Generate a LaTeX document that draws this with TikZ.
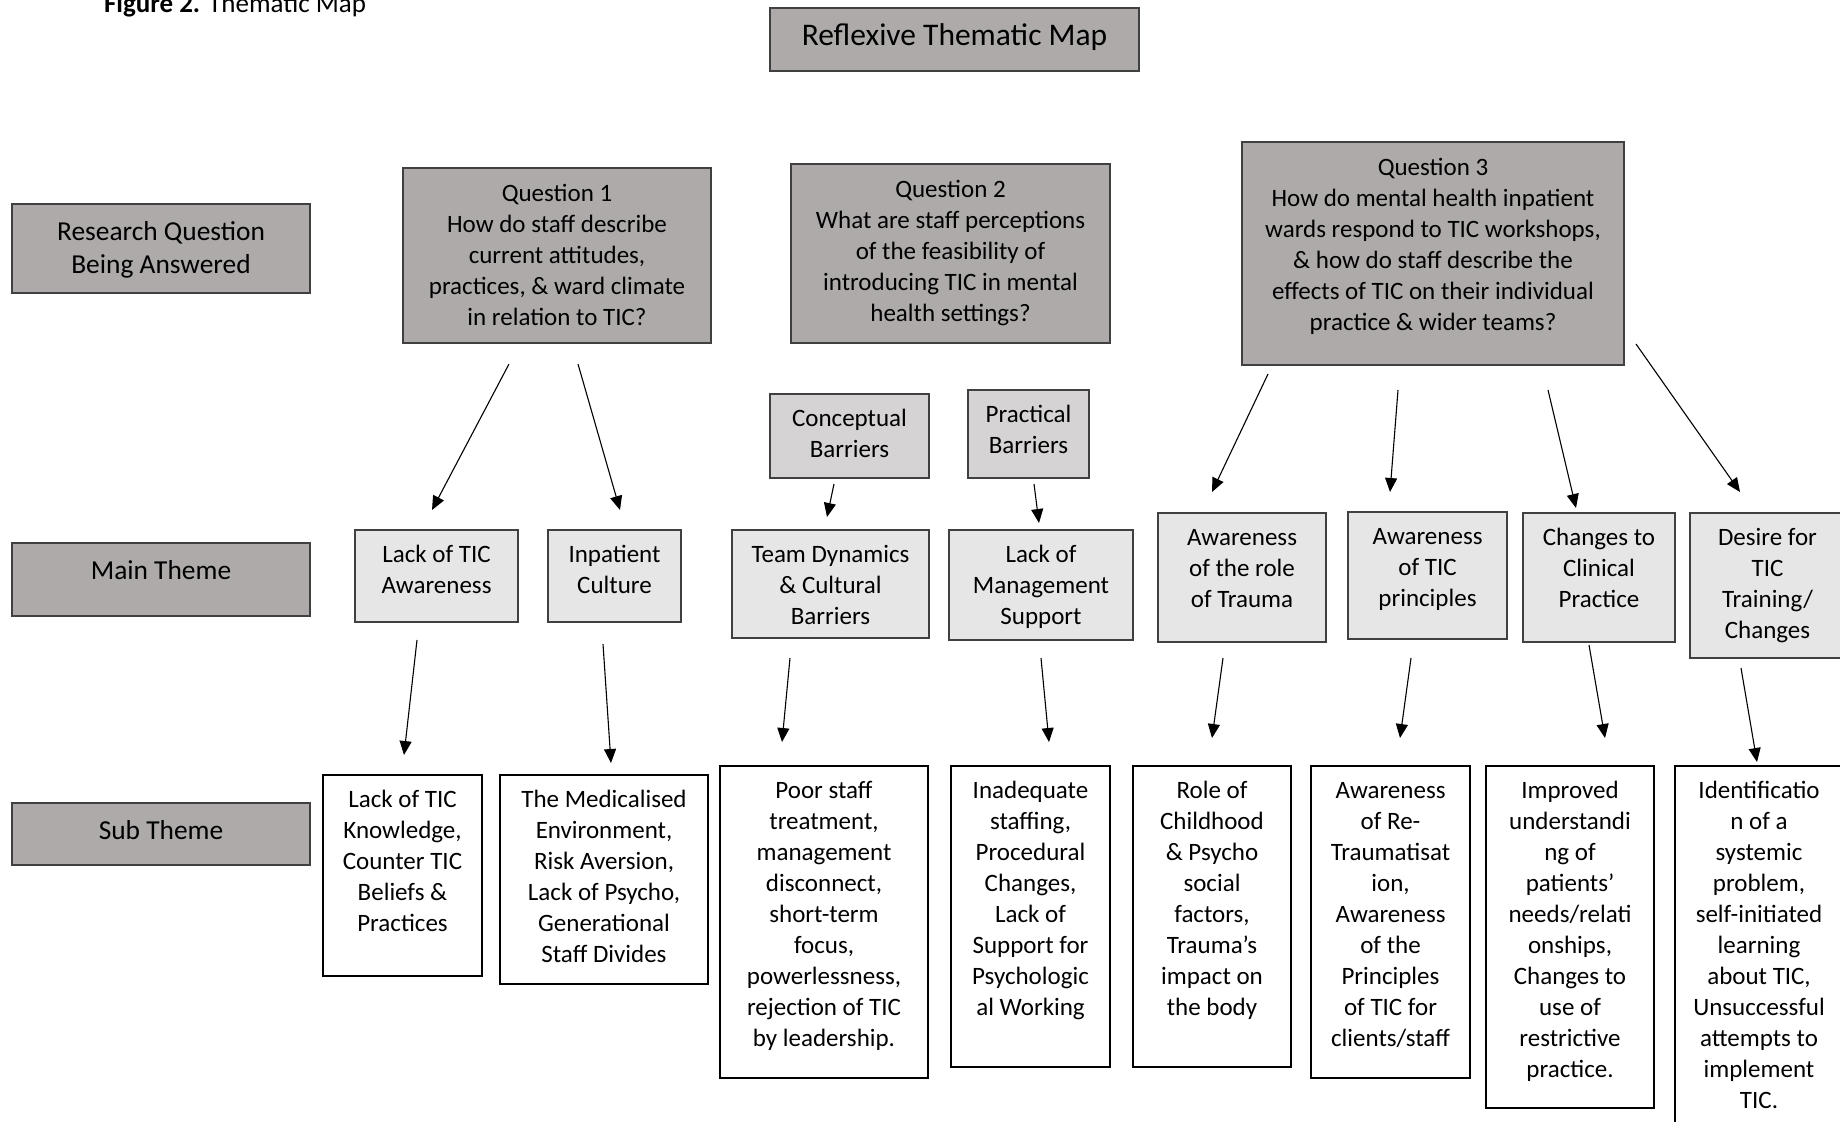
\documentclass[tikz,border=0pt]{standalone}
\usepackage{fontspec}
\setmainfont{Carlito}
\usetikzlibrary{arrows.meta}
\definecolor{darkfill}{HTML}{AEAAAA}
\definecolor{litefill}{HTML}{E7E6E6}
\definecolor{barrfill}{HTML}{D5D3D3}
\definecolor{boxline}{HTML}{404040}
\newdimen\mypx \mypx=0.5pt
% #1 width px, #2 height px, #3 first baseline offset px, #4 text
\newcommand{\tb}[4]{\parbox[c][#2\mypx][t]{#1\mypx}{\centering\vspace*{\dimexpr#3\mypx-0.7\baselineskip\relax}\strut#4\par}}
\tikzset{
  every node/.style={inner sep=0pt, outer sep=0pt},
  boxbase/.style={draw=boxline, line width=0.75pt, anchor=north west, font=\fontsize{12.5}{15.5}\selectfont},
  darkbox/.style={boxbase, fill=darkfill},
  lblbox/.style={darkbox, font=\fontsize{13.7}{16.5}\selectfont},
  litebox/.style={boxbase, fill=litefill},
  barrbox/.style={boxbase, fill=barrfill},
  subbox/.style={boxbase, draw=black, fill=white},
  conn/.style={-{Triangle[length=7pt,width=6pt]}, line width=0.55pt, black},
}
\begin{document}
\begin{tikzpicture}[x=0.5pt,y=-0.5pt]
\useasboundingbox (0,0) rectangle (1840,1121);
% caption (cut at top)
\node[anchor=base west, font=\fontsize{13.5}{16}\selectfont] (cap) at (104,12.5) {\textbf{Figure 2.} Thematic Map};
% title
\node[darkbox, font=\fontsize{15.75}{19}\selectfont] (title) at (770,8) {\tb{369}{63}{37}{Reflexive Thematic Map}};
% row labels
\node[lblbox] (rq) at (12,204) {\tb{298}{89}{36}{Research Question\\Being Answered}};
\node[lblbox] (mt) at (12,543) {\tb{298}{73}{36}{Main Theme}};
\node[lblbox] (st) at (12,803) {\tb{298}{62}{36}{Sub Theme}};
% questions
\node[darkbox] (q1) at (403,168) {\tb{308}{175}{33}{Question 1\\How do staff describe\\current attitudes,\\practices, \& ward climate\\in relation to TIC?}};
\node[darkbox] (q2) at (791,164) {\tb{319}{179}{33}{Question 2\\What are staff perceptions\\of the feasibility of\\introducing TIC in mental\\health settings?}};
\node[darkbox] (q3) at (1242,142) {\tb{382}{223}{33}{Question 3\\How do mental health inpatient\\wards respond to TIC workshops,\\\& how do staff describe the\\effects of TIC on their individual\\practice \& wider teams?}};
% barriers
\node[barrbox] (conc) at (770,394) {\tb{159}{84}{32}{Conceptual\\Barriers}};
\node[barrbox] (prac) at (968,390) {\tb{121}{88}{32}{Practical\\Barriers}};
% main themes
\node[litebox] (m1) at (355,530) {\tb{163}{92}{32}{Lack of TIC\\Awareness}};
\node[litebox] (m2) at (548,530) {\tb{133}{92}{32}{Inpatient\\Culture}};
\node[litebox] (m3) at (732,530) {\tb{197}{108}{32}{Team Dynamics\\\& Cultural\\Barriers}};
\node[litebox] (m4) at (949,530) {\tb{184}{110}{32}{Lack of\\Management\\Support}};
\node[litebox] (m5) at (1158,513) {\tb{168}{129}{32}{Awareness\\of the role\\of Trauma}};
\node[litebox] (m6) at (1348,512) {\tb{159}{127}{32}{Awareness\\of TIC\\principles}};
\node[litebox] (m7) at (1523,513) {\tb{152}{129}{32}{Changes to\\Clinical\\Practice}};
\node[litebox] (m8) at (1690,513) {\tb{155}{145}{32}{Desire for\\TIC\\Training/\\Changes}};
% sub themes
\node[subbox] (s1) at (323,775) {\tb{159}{201}{32}{Lack of TIC\\Knowledge,\\Counter TIC\\Beliefs \&\\Practices}};
\node[subbox] (s2) at (500,775) {\tb{208}{209}{32}{The Medicalised\\Environment,\\Risk Aversion,\\Lack of Psycho,\\Generational\\Staff Divides}};
\node[subbox] (s3) at (720,766) {\tb{208}{312}{32}{Poor staff\\treatment,\\management\\disconnect,\\short-term\\focus,\\powerlessness,\\rejection of TIC\\by leadership.}};
\node[subbox] (s4) at (951,766) {\tb{159}{301}{32}{Inadequate\\staffing,\\Procedural\\Changes,\\Lack of\\Support for\\Psychologic\\al Working}};
\node[subbox] (s5) at (1133,766) {\tb{158}{301}{32}{Role of\\Childhood\\\& Psycho\\social\\factors,\\Trauma’s\\impact on\\the body}};
\node[subbox] (s6) at (1311,766) {\tb{159}{312}{32}{Awareness\\of Re-\\Traumatisat\\ion,\\Awareness\\of the\\Principles\\of TIC for\\clients/staff}};
\node[subbox] (s7) at (1486,766) {\tb{168}{342}{32}{Improved\\understandi\\ng of\\patients’\\needs/relati\\onships,\\Changes to\\use of\\restrictive\\practice.}};
\node[subbox] (s8) at (1675,766) {\tb{168}{380}{32}{Identificatio\\n of a\\systemic\\problem,\\self-initiated\\learning\\about TIC,\\Unsuccessful\\attempts to\\implement\\TIC.}};
% arrow end points (arrows float between boxes)
\coordinate (a1s) at (509,364);  \coordinate (a1e) at (432,510);
\coordinate (a2s) at (578,364);  \coordinate (a2e) at (620,510);
\coordinate (a3s) at (834,484);  \coordinate (a3e) at (827,517);
\coordinate (a4s) at (1034,484); \coordinate (a4e) at (1039,523);
\coordinate (a5s) at (1268,374); \coordinate (a5e) at (1212,492);
\coordinate (a6s) at (1398,390); \coordinate (a6e) at (1390,492);
\coordinate (a7s) at (1548,390); \coordinate (a7e) at (1576,508);
\coordinate (a8s) at (1636,344); \coordinate (a8e) at (1740,492);
\coordinate (b1s) at (417,640);  \coordinate (b1e) at (404,755);
\coordinate (b2s) at (603,644);  \coordinate (b2e) at (611,763);
\coordinate (b3s) at (790,658);  \coordinate (b3e) at (782,742);
\coordinate (b4s) at (1041,658); \coordinate (b4e) at (1049,742);
\coordinate (b5s) at (1223,658); \coordinate (b5e) at (1212,738);
\coordinate (b6s) at (1411,658); \coordinate (b6e) at (1400,738);
\coordinate (b7s) at (1589,645); \coordinate (b7e) at (1605,738);
\coordinate (b8s) at (1741,668); \coordinate (b8e) at (1757,762);
\foreach \c in {a1,a2,a3,a4,a5,a6,a7,a8,b1,b2,b3,b4,b5,b6,b7,b8}
  \draw[conn] (\c s) -- (\c e);
\end{tikzpicture}
\end{document}
